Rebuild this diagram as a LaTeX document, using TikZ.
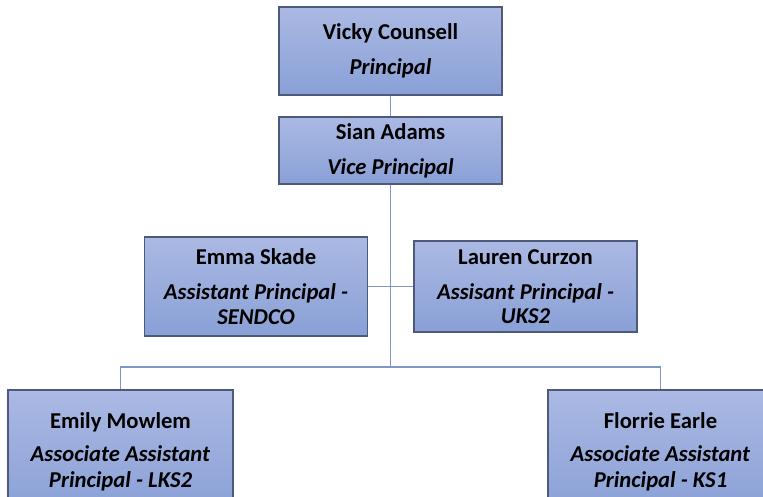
\documentclass[tikz,border=0pt]{standalone}
\usepackage{fontspec}
\setmainfont{Carlito}
\usepackage{tikz}
\usetikzlibrary{positioning, calc}
\definecolor{boxtop}{RGB}{171,185,227}
\definecolor{boxbot}{RGB}{137,160,214}
\definecolor{boxline}{RGB}{78,90,124}
\definecolor{linkblue}{RGB}{128,150,200}
\tikzstyle{post} = [rectangle, minimum width=4.46cm, inner sep=0pt, align=center, draw=boxline, line width=0.6pt, top color=boxtop, bottom color=boxbot, font=\fontsize{12.9}{13.9}\selectfont\bfseries]
\tikzstyle{link} = [draw=linkblue, line width=0.9pt]

\begin{document}
\begin{tikzpicture}[node distance=1.99cm]
        \clip (0,0) rectangle (15.26,-9.94);
        \node (principal) [post, minimum height=1.76cm] at (7.81,-1.02) {Vicky Counsell\\[6pt]\textit{Principal}};
        \node (vice) [post, minimum height=1.34cm, below of=principal]{Sian Adams\\[6pt]\textit{Vice Principal}};
        \node (sendco) [post, minimum height=1.98cm, below of=vice, xshift=-2.69cm, yshift=-0.73cm]{Emma Skade\\[6pt]\textit{Assistant Principal -}\\\textit{SENDCO}};
        \node (uks) [post, minimum height=1.82cm, right of=sendco, xshift=3.40cm]{Lauren Curzon\\[6pt]\textit{Assisant Principal -}\\\textit{UKS2}};
        \node (lks) [post, minimum height=2.48cm, minimum width=4.5cm] at (2.41,-9.04) {Emily Mowlem\\[5pt]\textit{Associate Assistant}\\[1pt]\textit{Principal - LKS2}};
        \node (ksone) [post, minimum height=2.48cm, minimum width=4.5cm] at (13.21,-9.04) {Florrie Earle\\[5pt]\textit{Associate Assistant}\\[1pt]\textit{Principal - KS1}};
        \coordinate (bus) at (7.81,-7.34);

        \draw [link] (principal) -- (vice);
        \draw [link] (vice) -- (bus);
        \draw [link] (sendco) -- (uks);
        \draw [link] (lks) |- (bus) -| (ksone);
\end{tikzpicture}
\end{document}
